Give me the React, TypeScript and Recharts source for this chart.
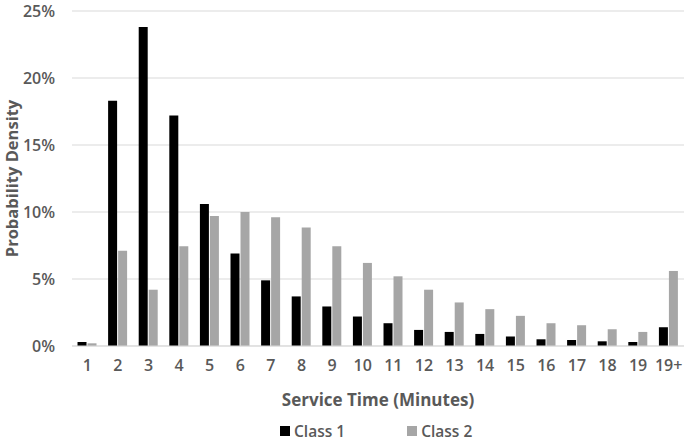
import React from "react";
import {
  Bar,
  BarChart,
  CartesianGrid,
  Label,
  Legend,
  XAxis,
  YAxis,
} from "recharts";

// service time buckets (minutes)
const minutes = [
  "1", "2", "3", "4", "5", "6", "7", "8", "9", "10",
  "11", "12", "13", "14", "15", "16", "17", "18", "19", "19+",
];

// probability density, percent
const class1 = [
  0.3, 18.3, 23.8, 17.2, 10.6, 6.9, 4.9, 3.7, 2.95, 2.2,
  1.7, 1.2, 1.05, 0.9, 0.7, 0.5, 0.45, 0.35, 0.3, 1.4,
];
const class2 = [
  0.2, 7.1, 4.2, 7.45, 9.7, 10.0, 9.6, 8.85, 7.45, 6.2,
  5.2, 4.2, 3.25, 2.75, 2.25, 1.7, 1.55, 1.25, 1.05, 5.6,
];

const yTicks = [0, 5, 10, 15, 20, 25];

const data = minutes.map((m, i) => ({
  name: m,
  class1: class1[i],
  class2: class2[i],
}));

const FONT = "'Open Sans', sans-serif";
const TEXT = "#595959";
const BLACK = "#000000";
const GREY = "#a6a6a6";

function LegendBox() {
  const item = (color: string, label: string, ml: number) => (
    <span
      style={{
        display: "inline-flex",
        alignItems: "center",
        marginLeft: ml,
      }}
    >
      <span
        style={{
          width: 10,
          height: 10,
          background: color,
          display: "inline-block",
          marginRight: 4,
        }}
      />
      <span style={{ color: TEXT, fontSize: 15.5, fontWeight: 600 }}>
        {label}
      </span>
    </span>
  );
  return (
    <div
      style={{
        fontFamily: FONT,
        display: "flex",
        justifyContent: "flex-start",
        paddingLeft: 280,
        lineHeight: "20px",
      }}
    >
      {item(BLACK, "Class 1", 0)}
      {item(GREY, "Class 2", 62)}
    </div>
  );
}

export default function App() {
  return (
    <div style={{ position: "absolute", left: 0, top: 0, background: "#fff" }}>
      <BarChart
        width={685}
        height={443}
        data={data}
        margin={{ top: 11, right: 1, left: 0, bottom: 0 }}
        barCategoryGap="18%"
        barGap={1}
        style={{ fontFamily: FONT }}
      >
        <CartesianGrid vertical={false} stroke="#d9d9d9" />
        <XAxis
          dataKey="name"
          height={75}
          tickLine={false}
          tickSize={0}
          tickMargin={14}
          axisLine={{ stroke: "#d9d9d9" }}
          tick={{ fill: TEXT, fontSize: 16, fontWeight: 600 }}
          interval={0}
        >
          <Label
            value="Service Time (Minutes)"
            position="insideBottom"
            offset={15}
            fill={TEXT}
            fontSize={17}
            fontWeight={700}
          />
        </XAxis>
        <YAxis
          width={72}
          domain={[0, 25]}
          ticks={yTicks}
          tickFormatter={(v: number) => `${v}%`}
          tickLine={false}
          tickSize={0}
          tickMargin={17}
          axisLine={false}
          tick={{ fill: TEXT, fontSize: 16, fontWeight: 600 }}
        >
          <Label
            value="Probability Density"
            angle={-90}
            position="center"
            dx={-24}
            fill={TEXT}
            fontSize={16.5}
            fontWeight={700}
          />
        </YAxis>
        <Legend
          verticalAlign="bottom"
          height={22}
          content={() => <LegendBox />}
        />
        <Bar dataKey="class1" name="Class 1" fill={BLACK} isAnimationActive={false} />
        <Bar dataKey="class2" name="Class 2" fill={GREY} isAnimationActive={false} />
      </BarChart>
    </div>
  );
}
